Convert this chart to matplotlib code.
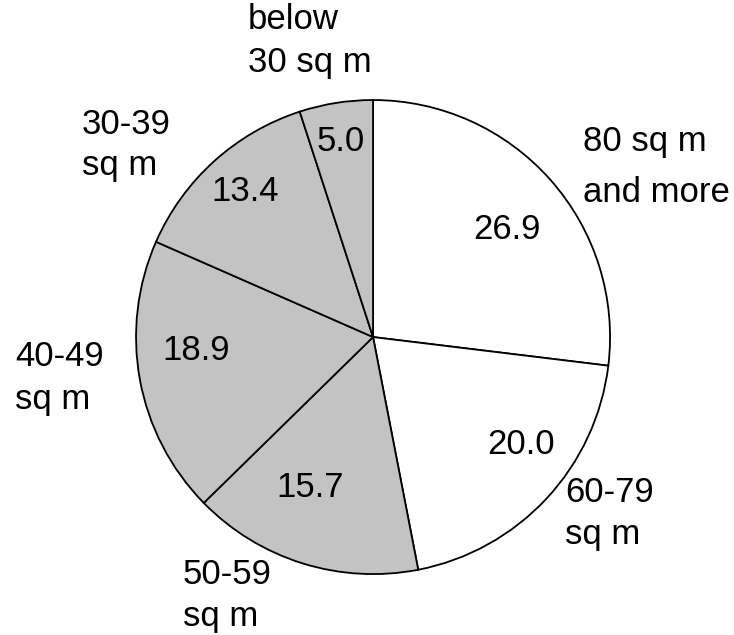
import numpy as np
import matplotlib.pyplot as plt

plt.rcParams['font.family'] = ['Liberation Sans', 'DejaVu Sans']

categories = ['80 sq m\nand more', '60-79\nsq m', '50-59\nsq m',
              '40-49\nsq m', '30-39\nsq m', 'below\n30 sq m']
shares = [26.9, 20.0, 15.7, 18.9, 13.4, 5.0]
colors = ['white', 'white', '#c3c3c3', '#c3c3c3', '#c3c3c3', '#c3c3c3']

# layout of the value labels (radius, angle in degrees)
value_pos = [(0.724, 38.6), (0.77, -36.0), (0.69, -112.8),
             (0.749, -175.8), (0.816, 131.4), (0.834, 99.3)]
# layout of category labels (left x, centre y) and line spacing
cat_pos = [(0.886, 0.717), (0.81, -0.745), (-0.802, -1.09),
           (-1.511, -0.173), (-1.228, 0.810), (-0.527, 1.249)]
cat_spacing = [1.67, 1.32, 1.35, 1.38, 1.28, 1.35]

fig = plt.figure(figsize=(7.34, 6.35), dpi=100)
ax = fig.add_axes([0, 0, 1, 1])

ax.pie(shares, colors=colors, startangle=90, counterclock=False,
       wedgeprops=dict(edgecolor='black', linewidth=1.3))

for val, (r, a) in zip(shares, value_pos):
    t = np.deg2rad(a)
    ax.text(r * np.cos(t), r * np.sin(t), '%.1f' % val, fontsize=25,
            ha='center', va='center')

for lab, (x, y), ls in zip(categories, cat_pos, cat_spacing):
    ax.text(x, y, lab, fontsize=25, ha='left', va='center',
            linespacing=ls, multialignment='left')

ax.set_xlim(-1.574, 1.523)
ax.set_ylim(-1.257, 1.422)
ax.set_aspect('auto')
ax.axis('off')

fig.savefig('out.png', dpi=100)
